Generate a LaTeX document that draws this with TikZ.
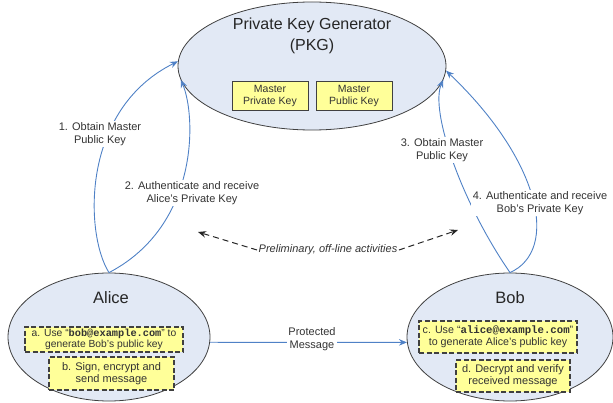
\documentclass[tikz,border=0pt]{standalone}
\usepackage{fontspec}
\setmainfont{Liberation Sans}
\setmonofont{Liberation Mono}
\usepackage{xcolor}
\usepackage{tikz}
\usetikzlibrary{arrows.meta}
\usetikzlibrary{shapes.geometric}
\usetikzlibrary{positioning}

\definecolor{partyfill}{HTML}{E2E9F5}
\definecolor{partyline}{HTML}{404040}
\definecolor{keyyellow}{HTML}{FFFF99}
\definecolor{flowblue}{HTML}{4F81C6}
\definecolor{textgray}{HTML}{333333}

\newcommand{\mail}[1]{\texttt{\bfseries #1}}

\begin{document}
\begin{tikzpicture}[x=1pt, y=-1pt, >={Stealth[length=8pt, width=6.5pt]},
    party/.style={ellipse, draw=partyline, fill=partyfill, thick, inner sep=0pt},
    keybox/.style={rectangle, draw=partyline, fill=keyyellow, thick, align=center,
      inner sep=1pt, text=textgray, font=\fontsize{10.5}{12}\selectfont},
    stepbox/.style={rectangle, draw=partyline, fill=keyyellow, line width=1.3pt,
      dash pattern=on 5pt off 2.5pt, align=center, inner sep=1pt, text=textgray,
      font=\fontsize{11}{12}\selectfont},
    note/.style={fill=white, align=center, inner sep=1.5pt, text=textgray,
      font=\fontsize{11}{13}\selectfont},
    flow/.style={draw=flowblue, line width=0.9pt, ->},
    offline/.style={draw=black!85, line width=1pt, dash pattern=on 6pt off 4pt, ->}]
    \useasboundingbox (0, 0) rectangle (613, 403);

    % parties
    \node[party, minimum width=268pt, minimum height=128pt] (pkg) at (312, 66) {};
    \node[party, minimum width=202pt, minimum height=128pt] (alice) at (109, 337) {};
    \node[party, minimum width=206pt, minimum height=128pt] (bob) at (510, 337) {};

    \node[align=center, text=black!85, font=\fontsize{16}{21.5}\selectfont] (pkgname) at (312, 36) {Private Key Generator\\(PKG)};
    \node[text=black!85, font=\fontsize{16.5}{19}\selectfont] (alicename) at (111, 298) {Alice};
    \node[text=black!85, font=\fontsize{16.5}{19}\selectfont] (bobname) at (510, 298) {Bob};

    % keys held by the PKG
    \node[keybox, minimum width=76pt, minimum height=29pt] (mpriv) at (270, 95.5) {Master\\Private Key};
    \node[keybox, minimum width=76pt, minimum height=29pt] (mpub) at (354, 95.5) {Master\\Public Key};

    % steps
    \node[stepbox, minimum width=158pt, minimum height=25pt, font=\fontsize{10.3}{11.5}\selectfont] (stepa) at (104, 339.5) {a. Use “\mail{bob@example.com}” to\\generate Bob’s public key};
    \node[stepbox, minimum width=125pt, minimum height=33pt] (stepb) at (111.5, 373.5) {b. Sign, encrypt and\\send message};
    \node[stepbox, minimum width=158pt, minimum height=32pt, font=\fontsize{10.7}{12}\selectfont] (stepc) at (498, 337) {c. Use “\mail{alice@example.com}”\\to generate Alice’s public key};
    \node[stepbox, minimum width=114pt, minimum height=32pt] (stepd) at (513, 376) {d. Decrypt and verify\\received message};

    % off-line key set-up
    \draw[flow] (alice.north) .. controls (85, 235) and (80, 110) .. (pkg.178);
    \draw[flow] (alice.north) .. controls (200, 225) and (196, 115) .. (pkg.186);
    \draw[flow] (bob.north) .. controls (460, 200) and (430, 110) .. (pkg.-6);
    \draw[flow] (bob.north) .. controls (560, 250) and (540, 160) .. (pkg.-2);

    \node[note] (obtaina) at (100, 134) {1. Obtain Master\\Public Key};
    \node[note] (autha) at (192, 193) {2. Authenticate and receive\\Alice’s Private Key};
    \node[note] (obtainb) at (442, 150) {3. Obtain Master\\Public Key};
    \node[note] (authb) at (540, 203) {4. Authenticate and receive\\Bob’s Private Key};

    % message
    \draw[flow] (alice.-3) -- (bob.183);
    \node[note] (msg) at (312, 339.5) {Protected\\Message};

    % preliminary activities
    \node[note, font=\fontsize{11}{13}\selectfont\itshape] (prelim) at (328, 250) {Preliminary, off-line activities};
    \coordinate (prelimL) at (198, 232);
    \coordinate (prelimR) at (458, 230);
    \draw[offline] (prelim.west) -- (prelimL);
    \draw[offline] (prelim.east) -- (prelimR);
\end{tikzpicture}
\end{document}
